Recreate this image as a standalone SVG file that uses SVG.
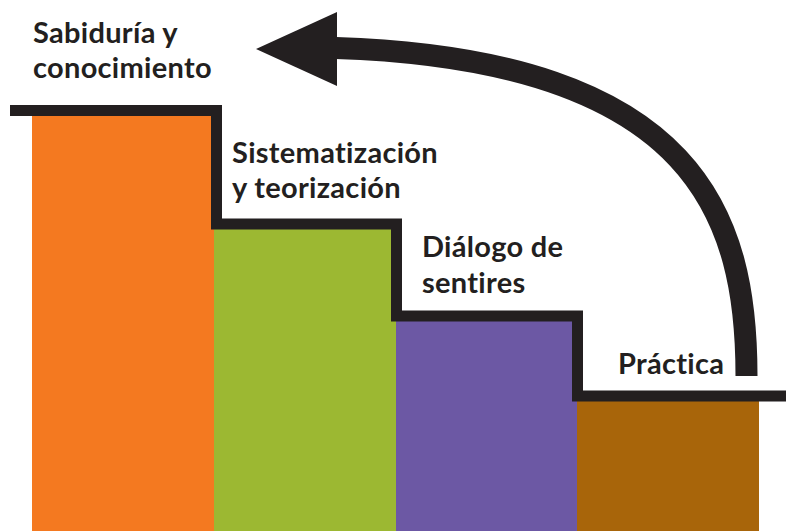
<svg xmlns="http://www.w3.org/2000/svg" width="786" height="531" viewBox="0 0 786 531">
<style>
  .lbl { font-family: Lato, "Liberation Sans", sans-serif; font-weight: 700; font-size: 29px; letter-spacing: 0.3px; fill: #231f20; }
  .stair { fill: none; stroke: #231f20; stroke-width: 11; stroke-linejoin: miter; stroke-linecap: butt; }
  .arrow { fill: none; stroke: #231f20; stroke-width: 22; stroke-linecap: butt; }
</style>
<rect width="786" height="531" fill="#ffffff"/>
<g id="bar-sabiduria"><rect x="32" y="110" width="182" height="421" fill="#f47920"/></g>
<g id="bar-sistematizacion"><rect x="214" y="224" width="182" height="307" fill="#9cb832"/></g>
<g id="bar-dialogo"><rect x="396" y="316" width="181" height="215" fill="#6c58a4"/></g>
<g id="bar-practica"><rect x="577" y="396" width="182" height="135" fill="#a8650a"/></g>
<g id="connectors">
  <path class="stair" d="M10 110.5 H216.5 V224 H396.5 V316 H577.5 V396 H786"/>
  <path class="arrow" d="M746.5 376 C746.5 220 700 60 336 48"/>
  <polygon points="256,49 337,12 337,86" fill="#231f20"/>
</g>
<g id="label-sabiduria">
  <text class="lbl" x="33" y="43">Sabiduría y</text>
  <text class="lbl" x="33" y="78">conocimiento</text>
</g>
<g id="label-sistematizacion">
  <text class="lbl" x="232" y="163">Sistematización</text>
  <text class="lbl" x="232" y="198">y teorización</text>
</g>
<g id="label-dialogo">
  <text class="lbl" x="422" y="257">Diálogo de</text>
  <text class="lbl" x="422" y="293">sentires</text>
</g>
<g id="label-practica">
  <text class="lbl" x="618" y="374">Práctica</text>
</g>
</svg>
